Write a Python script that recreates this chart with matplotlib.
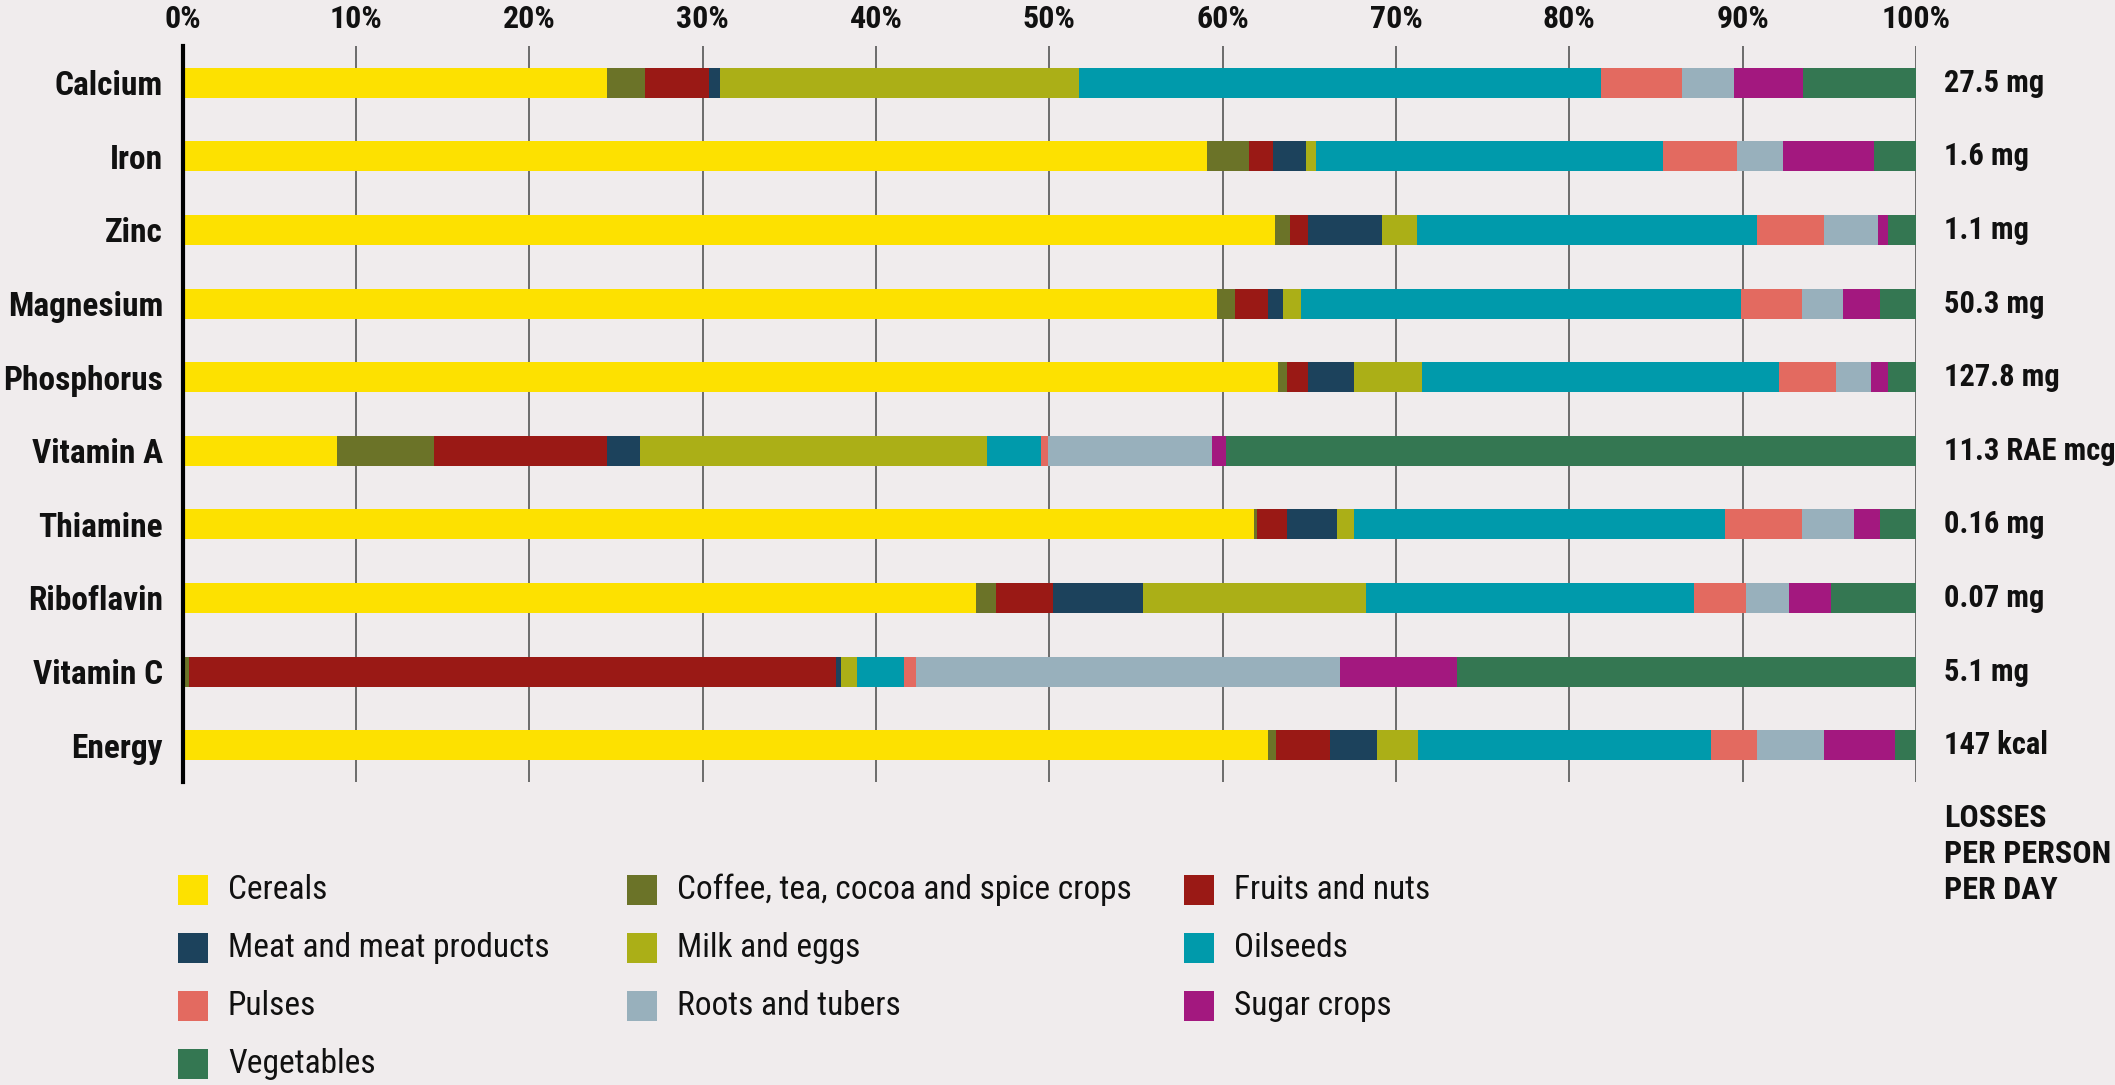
import matplotlib
matplotlib.use("Agg")
import matplotlib.pyplot as plt
from matplotlib.patches import Rectangle
from matplotlib import font_manager

# ---------------- data ----------------
nutrients = ["Calcium", "Iron", "Zinc", "Magnesium", "Phosphorus", "Vitamin A",
             "Thiamine", "Riboflavin", "Vitamin C", "Energy"]
losses = ["27.5 mg", "1.6 mg", "1.1 mg", "50.3 mg", "127.8 mg", "11.3 RAE mcg",
          "0.16 mg", "0.07 mg", "5.1 mg", "147 kcal"]
groups = ["Cereals", "Coffee, tea, cocoa and spice crops", "Fruits and nuts",
          "Meat and meat products", "Milk and eggs", "Oilseeds", "Pulses",
          "Roots and tubers", "Sugar crops", "Vegetables"]

cereals    = [24.5, 59.1, 63.0, 59.7, 63.2, 8.9, 61.8, 45.8, 0.0, 62.6]
coffee     = [2.2, 2.4, 0.9, 1.0, 0.5, 5.6, 0.2, 1.1, 0.4, 0.5]
fruits     = [3.7, 1.4, 1.0, 1.9, 1.2, 10.0, 1.7, 3.3, 37.3, 3.1]
meat       = [0.6, 1.9, 4.3, 0.9, 2.7, 1.9, 2.9, 5.2, 0.3, 2.7]
milk       = [20.7, 0.6, 2.0, 1.0, 3.9, 20.0, 1.0, 12.9, 0.9, 2.4]
oilseeds   = [30.1, 20.0, 19.6, 25.4, 20.6, 3.1, 21.4, 18.9, 2.7, 16.9]
pulses     = [4.7, 4.3, 3.9, 3.5, 3.3, 0.4, 4.4, 3.0, 0.7, 2.6]
roots      = [3.0, 2.6, 3.1, 2.4, 2.0, 9.5, 3.0, 2.5, 24.5, 3.9]
sugar      = [4.0, 5.3, 0.6, 2.1, 1.0, 0.8, 1.5, 2.4, 6.7, 4.1]
vegetables = [6.5, 2.4, 1.6, 2.1, 1.6, 39.8, 2.1, 4.9, 26.5, 1.2]

series = [cereals, coffee, fruits, meat, milk, oilseeds, pulses, roots, sugar, vegetables]
colors = ["#FDE100", "#6B7328", "#9A1915", "#1C425C", "#ABAF17", "#009AAB",
          "#E36A60", "#98B0BC", "#A3187F", "#347752"]
ticks = [0, 10, 20, 30, 40, 50, 60, 70, 80, 90, 100]

# ---------------- style ----------------
BG = "#F0ECED"
avail = {f.name for f in font_manager.fontManager.ttflist}
fam = [f for f in ["Liberation Sans Narrow", "Roboto Condensed", "DejaVu Sans"] if f in avail]
plt.rcParams["font.family"] = fam

W, H = 2115, 1085
fig = plt.figure(figsize=(W / 100, H / 100), dpi=100, facecolor=BG)
ax = fig.add_axes([182.5 / W, 1 - 782 / H, 1733.5 / W, 736 / H], facecolor=BG)

ypos = list(range(len(nutrients)))
left = [0.0] * len(nutrients)
for vals, col, name in zip(series, colors, groups):
    ax.barh(ypos, vals, left=left, height=0.41, color=col, label=name, zorder=3,
            linewidth=0)
    left = [a + b for a, b in zip(left, vals)]

ax.set_xlim(0, 100)
ax.set_ylim(9.5, -0.5)
for t in ticks[1:]:
    ax.axvline(t, color="#555555", lw=1.2, zorder=1)

TXT = "#111111"
ax.xaxis.tick_top()
ax.set_xticks(ticks)
ax.set_xticklabels([f"{t}%" for t in ticks], fontsize=23, fontweight="bold", color=TXT)
ax.tick_params(axis="x", length=0, pad=9)
ax.set_yticks(ypos)
ax.set_yticklabels(nutrients, fontsize=24, fontweight="bold", color=TXT)
ax.tick_params(axis="y", length=0, pad=14)

for s in ["top", "right", "bottom"]:
    ax.spines[s].set_visible(False)
ax.spines["left"].set_linewidth(3)
ax.spines["left"].set_color("#000000")
ax.spines["left"].set_zorder(5)

for y, txt in zip(ypos, losses):
    ax.annotate(txt, xy=(100, y), xytext=(20, 0), textcoords="offset points",
                va="center", ha="left", fontsize=22, fontweight="bold", color=TXT,
                annotation_clip=False)

for i, line in enumerate(["LOSSES", "PER PERSON", "PER DAY"]):
    fig.text(1944 / W, 1 - (818 + 36 * i) / H, line, ha="left", va="center",
             fontsize=23, fontweight="bold", color=TXT)

# ---------------- legend (row-major, 3 columns) ----------------
col_x = [178, 627, 1184]
row_y = [890, 948, 1006, 1064]
for k, (name, col) in enumerate(zip(groups, colors)):
    r, c = divmod(k, 3)
    x0, yc = col_x[c], row_y[r]
    fig.patches.append(Rectangle((x0 / W, 1 - (yc + 15) / H), 30 / W, 30 / H,
                                 transform=fig.transFigure, facecolor=col,
                                 edgecolor="none"))
    fig.text((x0 + 50) / W, 1 - yc / H, name, ha="left", va="center",
             fontsize=24, color=TXT)

fig.savefig("out.png", dpi=100, facecolor=BG)
